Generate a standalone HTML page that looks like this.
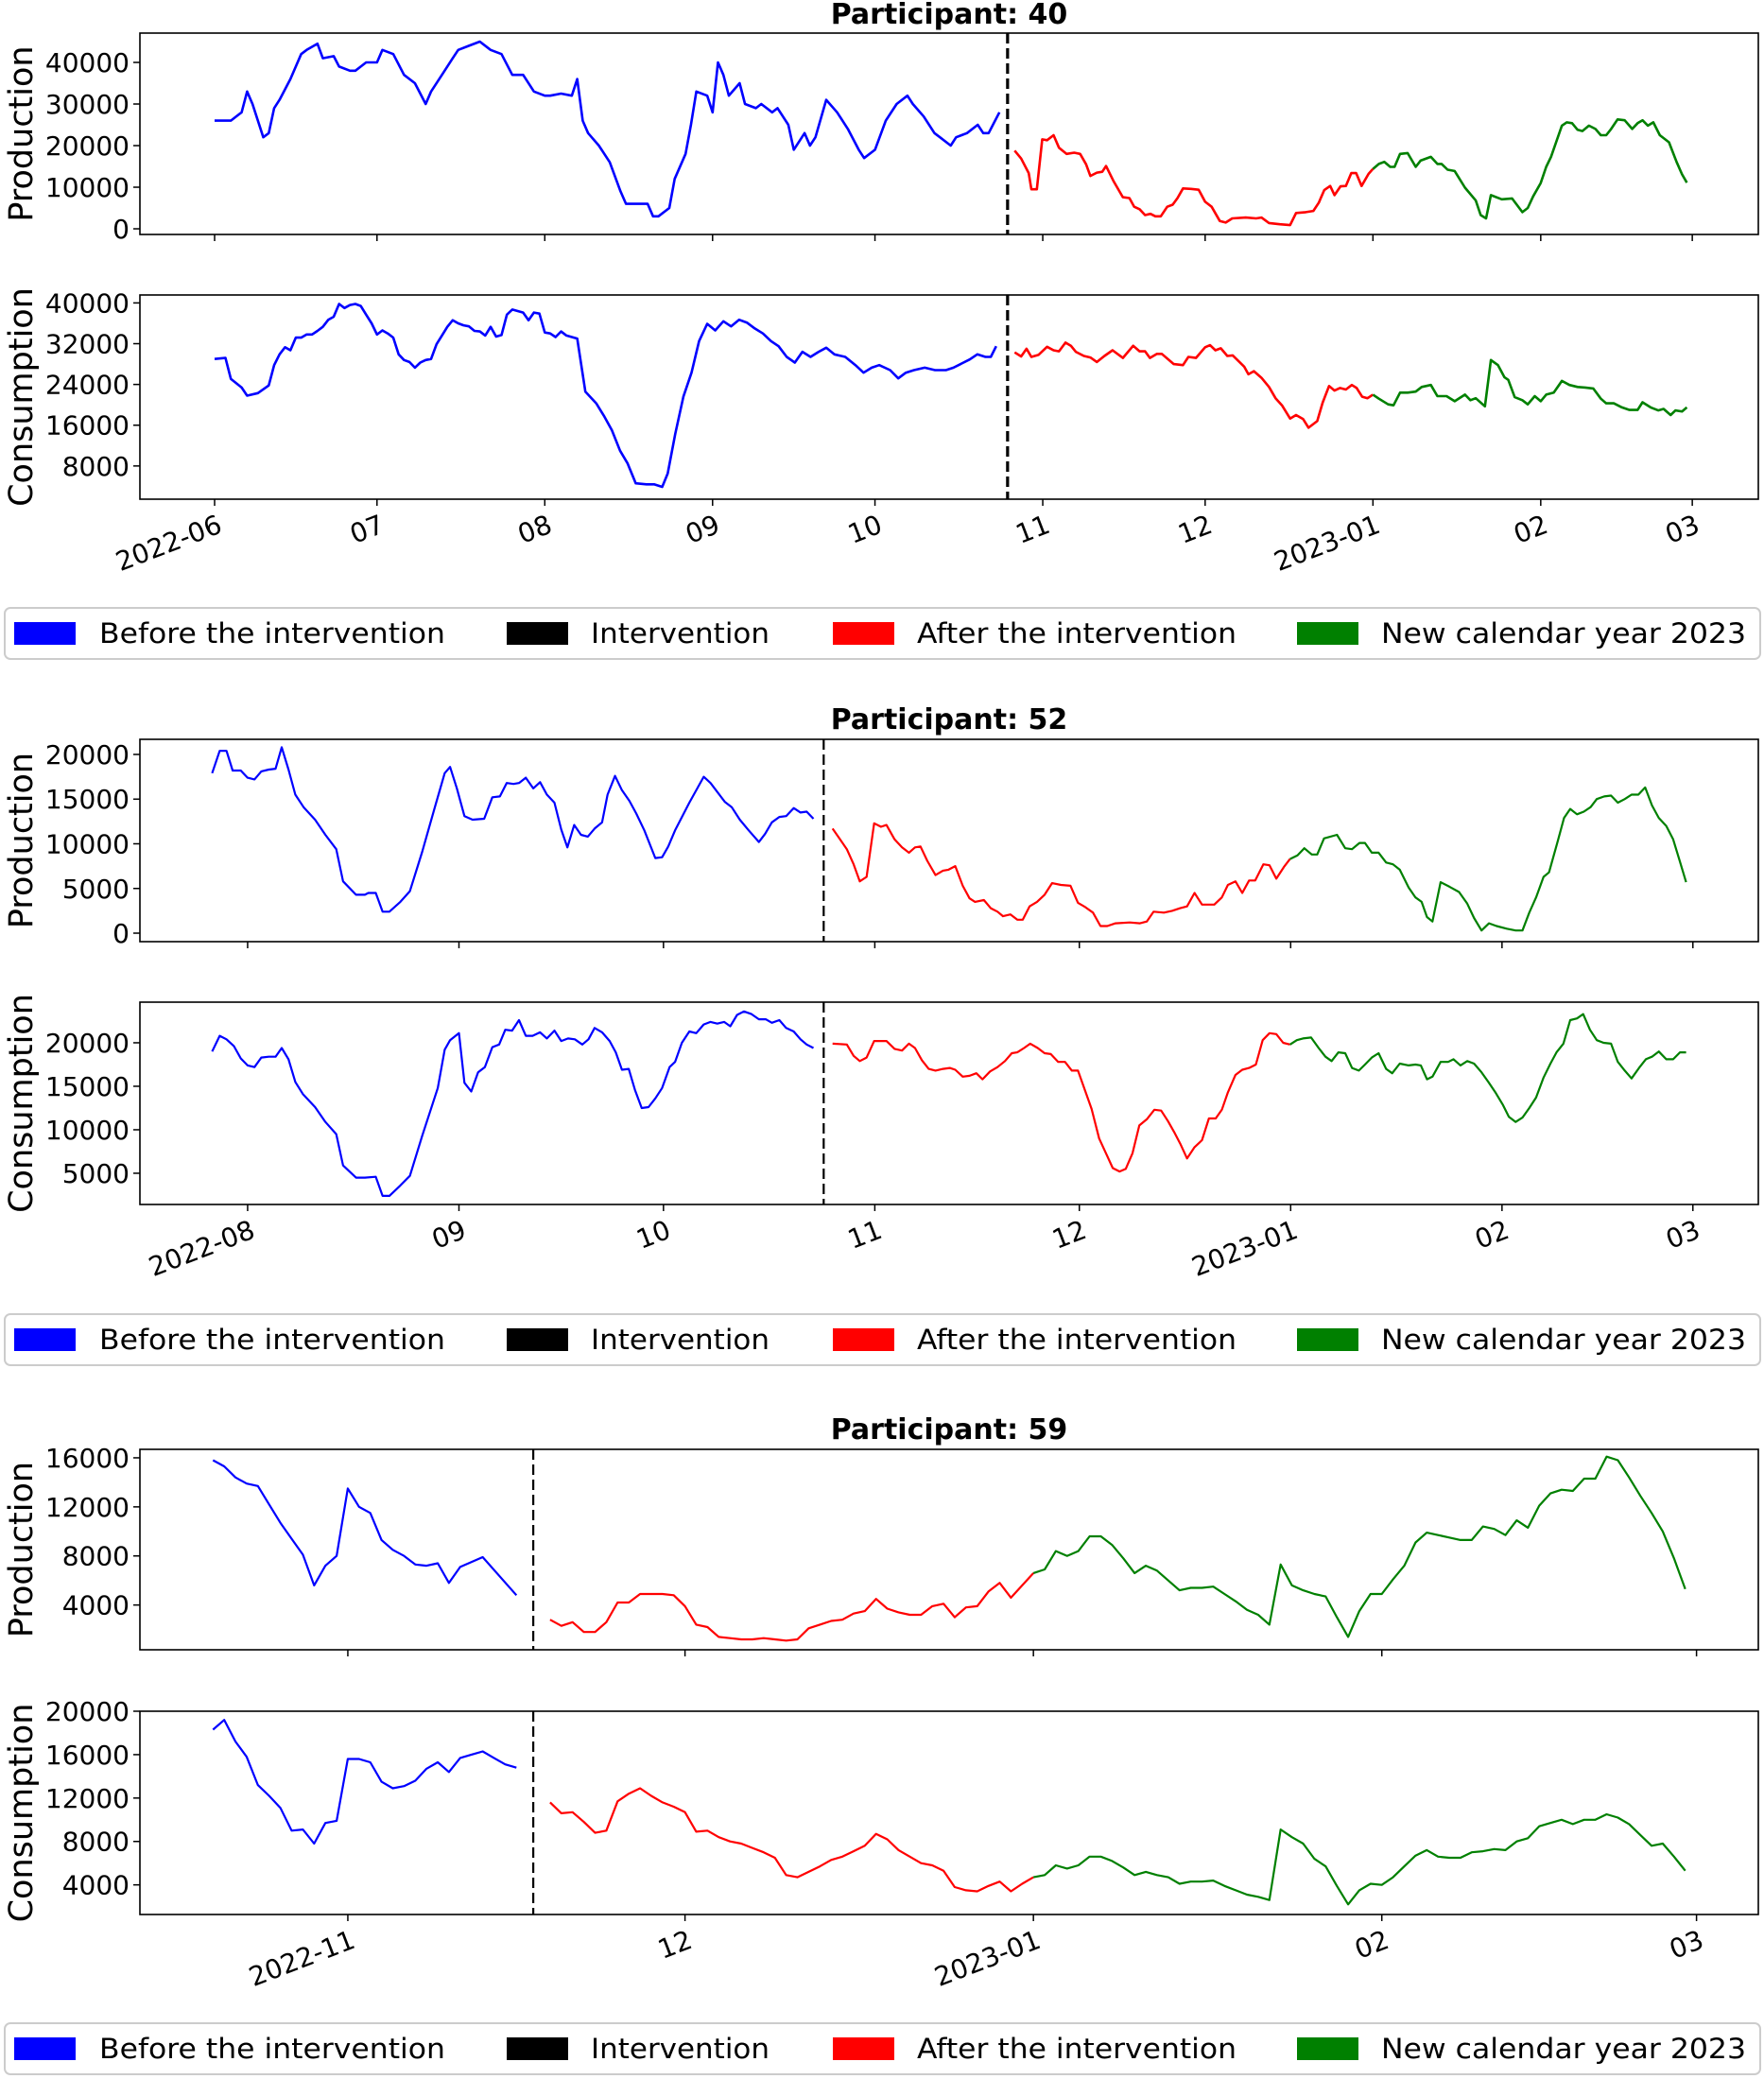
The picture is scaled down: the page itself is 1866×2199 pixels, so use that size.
<!DOCTYPE html>
<html><head><meta charset="utf-8"><title>Participants energy</title>
<style>html,body{margin:0;padding:0;background:#fff}svg{display:block;font-family:"DejaVu Sans","Liberation Sans",sans-serif}</style>
</head><body>
<svg id="chart" xmlns="http://www.w3.org/2000/svg" width="1866" height="2199" viewBox="0 0 1866 2199"></svg>
<script>
// ===== Data (values in thousands; days relative to first tick month) =====
const p40ProdBlueDays=[0,2,3,5,6,7,9,10,11,12,14,16,17,19,20,22,23,25,26,28,30,31,33,35,37,39,40,42,44,45,47,49,51,53,55,57,59,61,62,64,66,67,68,69,71,73,75,76,78,80,81,82,84,85,87,88,89,91,92,93,94,95,97,98,100,101,103,104,106,107,109,110,111,113,115,117,119,120,122,124,126,128,129,131,133,134,136,137,139,141,142,143,145];
const p40ProdBlueVals=[26,26,26,28,33,30,22,23,29,31,36,42,43,44.5,41,41.5,39,38,38,40,40,43,42,37,35,30,33,37,41,43,44,45,43,42,37,37,33,32,32,32.5,32,36,26,23,20,16,9,6,6,6,3,3,5,12,18,25,33,32,28,40,37,32,35,30,29,30,28,29,25,19,23,20,22,31,28,24,19,17,19,26,30,32,30,27,23,22,20,22,23,25,23,23,28];
const p40ProdRedDays=[147.8,149,150.4,150.9,151.9,152.9,153.8,155,156,157.4,158.8,159.9,161,161.8,163,164,164.7,166.1,167.8,169,169.9,170.9,171.9,172.9,173.8,174.8,176,177,177.9,178.9,180.4,181.8,183,184.2,185.7,186.8,188,190.5,192.4,193.4,194.8,196.8,198.7,199.8,201.6,203,204,205,206.1,206.9,208,209,210,210.9,211.9,213.2,214];
const p40ProdRedVals=[18.8,16.9,13.4,9.5,9.5,21.5,21.3,22.5,19.5,18,18.3,18,15.5,12.7,13.5,13.7,15.1,11.4,7.6,7.4,5.3,4.7,3.3,3.6,3.0,3.0,5.3,5.8,7.4,9.7,9.6,9.4,6.5,5.3,1.9,1.5,2.5,2.7,2.5,2.7,1.4,1.1,0.9,3.8,4.0,4.3,6.3,9.3,10.3,8.1,10.2,10.3,13.4,13.4,10.3,13.2,14.4];
const p40ProdGreenDays=[215.1,216.1,217.2,218,219,220.4,221.9,222.8,224.7,225.9,226.7,227.8,229.1,231,233,233.9,234.9,235.8,237.8,239.7,241.6,242.6,243.6,245,246,246.9,248.9,249.8,250.8,251.8,252.7,253.9,255.1,256.1,257.1,258,259.2,260.5,261.9,262.9,263.8,264.8,265.8,267,268.7,270.1,271.1,272];
const p40ProdGreenVals=[15.6,16.1,14.9,14.9,18,18.2,14.9,16.4,17.3,15.6,15.6,14.2,13.9,9.9,6.8,3.3,2.5,8.1,7.1,7.3,4.0,5.0,7.8,11.0,14.9,17.3,24.8,25.6,25.4,23.8,23.5,24.8,24,22.5,22.5,24,26.3,26.1,24,25.4,26.1,24.8,25.6,22.5,20.8,16.1,13.1,11.1];
const p40ConsBlueDays=[0,2,3,5,6,8,10,11,12,13,14,15,16,17,18,19,20,21,22,23,24,25,26,27,28,29,30,31,32,33,34,35,36,37,38,39,40,41,42,43,44,45,46,47,48,49,50,51,52,53,54,55,57,58,59,60,61,62,63,64,65,67,68.5,70.5,72,73.4,74.9,76.3,77.8,79.8,81.2,82.7,83.7,85.1,86.6,88.1,89.5,91,92.5,94,95.4,96.9,98.4,99.8,101.3,102.8,104.2,105.7,107.2,108.6,110.1,111.6,113,114.5,116.5,118.4,119.9,121.4,122.8,124.8,126.3,127.7,129.2,131.2,133.1,135.1,136.5,138,139.5,140.9,142.4,143.4,144.4];
const p40ConsBlueVals=[29.0,29.2,25.1,23.4,21.8,22.3,23.8,27.8,29.9,31.3,30.7,33.2,33.2,33.8,33.8,34.5,35.3,36.7,37.3,39.8,39.0,39.6,39.8,39.4,37.7,36,33.8,34.6,34,33.2,29.9,28.8,28.4,27.3,28.3,28.8,29.0,31.9,33.6,35.3,36.6,36,35.6,35.4,34.5,34.4,33.6,35.3,33.4,33.7,37.7,38.7,38.1,36.6,38.1,37.9,34.2,34,33.3,34.4,33.6,33,22.6,20.3,17.7,15,11,8.5,4.6,4.4,4.4,3.9,6.5,14.3,21.6,26.3,32.5,35.9,34.6,36.4,35.4,36.7,36.1,35,34,32.5,31.5,29.4,28.3,30.4,29.4,30.4,31.2,29.9,29.4,27.8,26.3,27.3,27.8,26.8,25.2,26.3,26.8,27.3,26.8,26.8,27.3,28.1,28.9,29.9,29.4,29.4,31.5];
const p40ConsRedDays=[147.8,149,150,150.9,152.2,153.8,155,156,157.2,158.2,159.1,160.6,161.8,163,164.4,165.9,167.8,169.7,170.9,171.9,172.8,174.1,175,177.2,178.9,179.9,181.3,183,183.9,184.9,185.9,187.1,188.1,190.2,191,192,193.4,194.8,196,197.2,198.7,199.8,201.1,202.1,203.7,204.7,205.9,206.9,207.9,209,210.1,211,212,213,214];
const p40ConsRedVals=[30.3,29.5,31.0,29.4,29.8,31.4,30.7,30.5,32.2,31.6,30.4,29.6,29.3,28.4,29.6,30.7,29.2,31.6,30.5,30.5,29.2,30,30,28.0,27.8,29.4,29.2,31.3,31.7,30.7,31.1,29.6,29.7,27.5,26,26.6,25.3,23.5,21.3,19.9,17.3,18,17.2,15.5,16.8,20.4,23.7,22.8,23.3,23,23.9,23.3,21.6,21.3,22.0];
const p40ConsGreenDays=[215.1,216.8,217.8,219,220.4,221.9,223,224.7,225.9,227.6,229.1,231,232,233,234.7,235.8,237.1,238.3,239,240.2,241.6,242.6,243.9,245,246,247.4,248.9,250.3,251.8,253.2,254.7,256.1,257.1,258.5,260,261.4,262.9,263.8,265.3,266.7,267.7,269,269.9,271.1,272];
const p40ConsGreenVals=[21.2,20.1,19.9,22.4,22.4,22.6,23.5,23.9,21.7,21.7,20.7,22.0,20.9,21.3,19.7,28.8,27.8,25.4,24.9,21.5,20.9,20.1,21.7,20.7,22,22.4,24.7,23.9,23.5,23.4,23.2,21.2,20.3,20.3,19.5,19.0,19.0,20.5,19.5,18.9,19.2,18,18.9,18.7,19.5];

const p52ProdBlueDays=[-5.2,-4.1,-3.1,-2.2,-1,0,1,2,3.1,4.1,5,6,7,8.2,9.9,11.4,13,14,15.9,17.2,17.7,18.8,19.8,20.8,22.4,23.8,25.6,27.4,28.9,29.7,30.7,31.8,33,34.7,35.9,37,38,39,39.8,40.8,41.9,42.9,43.9,45,46,46.9,47.9,48.9,49.9,50.9,52,52.8,53.9,54.9,56,57,58.2,59.8,60.8,61.7,62.7,64.8,66.9,67.9,68.9,70,71,72.2,73.5,75,75.9,76.9,78,79,80.1,81.1,82,83];
const p52ProdBlueVals=[17.9,20.4,20.4,18.2,18.2,17.4,17.2,18.1,18.3,18.4,20.8,18.3,15.5,14.1,12.7,11.0,9.4,5.8,4.3,4.3,4.5,4.5,2.4,2.4,3.5,4.7,9.1,13.9,17.9,18.6,16.2,13.1,12.7,12.8,15.2,15.3,16.8,16.7,16.8,17.4,16.2,16.9,15.5,14.6,11.6,9.6,12.1,11.0,10.8,11.7,12.4,15.5,17.6,16.0,14.8,13.4,11.5,8.4,8.5,9.7,11.5,14.6,17.5,16.8,15.8,14.7,14.1,12.7,11.5,10.2,11.1,12.4,13.0,13.1,14.0,13.5,13.6,12.8];
const p52ProdRedDays=[85.8,86.9,87.9,88.9,89.8,90.8,91.9,92.9,93.7,94.9,96,97,97.9,98.7,99.7,100.9,102,102.8,103.8,104.9,105.9,106.7,108,109,110,110.8,111.9,112.9,113.7,114.7,115.8,116.9,118,119.3,120.7,121.8,122.9,124,125.1,126.1,127.3,129.4,130.9,131.9,132.9,134.4,135.6,136.8,137.8,138.9,140,141.8,142.9,143.8,144.9,145.9,146.9,147.8,149,149.9,150.9,152,152.9];
const p52ProdRedVals=[11.7,10.5,9.4,7.7,5.8,6.3,12.3,11.9,12.1,10.5,9.6,9.0,9.6,9.7,8.1,6.5,7.0,7.1,7.5,5.3,3.9,3.5,3.7,2.8,2.4,1.9,2.1,1.5,1.5,3.0,3.5,4.3,5.6,5.4,5.3,3.4,2.9,2.3,0.8,0.8,1.1,1.2,1.1,1.3,2.4,2.3,2.5,2.8,3.0,4.5,3.2,3.2,4.0,5.4,5.8,4.5,5.9,5.9,7.7,7.6,6.1,7.4,8.3];
const p52ProdGreenDays=[154,155,156.1,156.9,157.9,159.8,161,162,163.1,163.9,164.9,165.9,167,168,169,170.3,171.3,172.2,173,173.8,175,176.3,177.7,178.9,179.9,181,182.1,183.2,184.7,186,187,188,189,190.1,190.9,192.1,193.1,194,195,196,197,197.9,199,200,201,202,203,204,205,206,207,208.1,209.1,210.1,211];
const p52ProdGreenVals=[8.7,9.5,8.8,8.8,10.6,11.0,9.5,9.4,10.1,10.1,9.0,9.0,7.9,7.7,7.1,5.1,4.0,3.5,1.8,1.3,5.7,5.2,4.6,3.3,1.7,0.3,1.1,0.8,0.5,0.3,0.3,2.3,4.0,6.3,6.8,10.1,12.9,13.9,13.3,13.6,14.1,15.0,15.3,15.4,14.6,15.0,15.5,15.5,16.3,14.3,12.9,12.0,10.5,8.0,5.7];
const p52ConsBlueDays=[-5.2,-4.1,-3.1,-2,-1,0,1,2,3.1,4.1,5,6,7,8.1,9.9,11.4,13,14,15.9,17.2,18.8,19.8,20.8,22.4,23.8,25.6,27.9,28.9,29.7,31,31.8,32.8,33.8,34.8,35.9,36.9,37.8,38.8,39.8,40.8,41.8,42.9,43.9,45,46,47,48,49.1,50,50.9,52,53.1,54,54.9,55.9,56.8,57.8,58.8,59.8,60.8,61.9,62.7,63.7,64.8,65.8,66.9,67.9,68.9,69.9,70.8,71.8,72.8,73.9,75,76,76.9,78,79,80.1,81.1,82,83];
const p52ConsBlueVals=[19.0,20.8,20.4,19.6,18.2,17.4,17.2,18.3,18.4,18.4,19.4,18.1,15.5,14.1,12.6,10.9,9.5,5.9,4.5,4.5,4.6,2.4,2.4,3.6,4.7,9.3,14.8,19.2,20.3,21.1,15.4,14.4,16.6,17.2,19.5,19.8,21.5,21.4,22.6,20.8,20.8,21.2,20.5,21.4,20.2,20.5,20.4,19.8,20.4,21.7,21.2,20.2,18.9,16.9,17.0,14.6,12.5,12.6,13.6,14.8,17.2,17.8,20.0,21.3,21.1,22.1,22.4,22.2,22.4,21.9,23.2,23.6,23.3,22.7,22.7,22.3,22.6,21.7,21.3,20.4,19.8,19.4];
const p52ConsRedDays=[85.8,87.9,88.9,89.8,90.8,91.9,93.7,94.9,96,97,97.9,98.9,99.9,100.9,102,103,103.8,104.9,105.9,106.9,107.8,108.9,110,111.1,112.1,112.9,113.9,114.8,115.9,116.9,117.8,118.9,119.9,120.9,121.8,122.8,123.8,124.9,125.9,126.9,127.9,128.8,129.8,130.8,131.9,133,134,135,136,136.8,137.8,138.9,140,141,142,142.9,143.8,144.9,145.9,146.9,147.9,148.9,149.9,150.9,151.9,152.9];
const p52ConsRedVals=[19.9,19.8,18.5,17.9,18.3,20.2,20.2,19.3,19.1,19.9,19.4,18.0,17.0,16.8,17.0,17.1,16.9,16.1,16.2,16.5,15.8,16.7,17.2,17.9,18.8,18.9,19.4,19.9,19.4,18.8,18.7,17.8,17.8,16.8,16.8,14.6,12.4,9.0,7.3,5.6,5.2,5.5,7.3,10.5,11.2,12.3,12.2,11.0,9.6,8.4,6.7,8.0,8.8,11.3,11.3,12.3,14.3,16.3,16.9,17.1,17.5,20.3,21.1,21.0,20.0,19.8];
const p52ConsGreenDays=[153.9,154.8,156,157.1,158.1,159,160,161,162,163,163.9,164.9,165.9,167,167.9,169,170.3,171.3,172.1,173,173.8,175,176.1,176.9,177.9,178.9,179.9,181,182,183.1,184.1,185,186,187,188,189,190.1,191.1,192,193,194,195,195.9,196.9,197.9,198.9,200,201,202,203,204.1,205.1,206,207,208.1,209.1,210.1,211];
const p52ConsGreenVals=[20.3,20.5,20.6,19.4,18.4,17.9,18.9,18.8,17.1,16.8,17.5,18.3,18.8,17.0,16.5,17.6,17.4,17.5,17.4,15.8,16.1,17.8,17.8,18.1,17.4,17.9,17.6,16.6,15.5,14.2,12.9,11.5,10.9,11.4,12.5,13.7,16.0,17.6,18.9,19.9,22.6,22.8,23.3,21.5,20.3,20.0,19.9,17.8,16.8,15.9,17.1,18.1,18.4,19.0,18.1,18.1,18.9,18.9];

const p59ProdBlueDays=[-12,-11,-10,-9,-8,-7,-6,-5,-4,-3,-2,-1,0,1,2,3,4,5,6,7,8,9,10,12,15];
const p59ProdBlueVals=[15.8,15.3,14.4,13.9,13.7,12.2,10.7,9.4,8.1,5.6,7.2,8.0,13.5,12.0,11.5,9.3,8.5,8.0,7.3,7.2,7.4,5.8,7.1,7.9,4.8];
const p59ProdRedDays=[18,19,20,21,22,23,24,25,26,27,28,29,30,31,32,33,34,35,36,37,38,39,40,41,42,43,44,45,46,47,48,49,50,51,52,53,54,55,56,57,58,59,60,61];
const p59ProdRedVals=[2.8,2.3,2.6,1.8,1.8,2.6,4.2,4.2,4.9,4.9,4.9,4.8,3.9,2.4,2.2,1.4,1.3,1.2,1.2,1.3,1.2,1.1,1.2,2.1,2.4,2.7,2.8,3.3,3.5,4.5,3.7,3.4,3.2,3.2,3.9,4.1,3.0,3.8,3.9,5.1,5.8,4.6,5.6,6.6];
const p59ProdGreenDays=[62,63,64,65,66,67,68,69,70,71,72,73,74,75,76,77,78,79,80,81,82,83,84,85,86,87,88,89,90,91,92,93,94,95,96,97,98,99,100,101,102,103,104,105,106,107,108,109,110,111,112,113,114,115,116,117,118,119];
const p59ProdGreenVals=[6.9,8.4,8.0,8.4,9.6,9.6,8.9,7.8,6.6,7.2,6.8,6.0,5.2,5.4,5.4,5.5,4.9,4.3,3.6,3.2,2.4,7.3,5.6,5.2,4.9,4.7,3.0,1.4,3.5,4.9,4.9,6.1,7.2,9.1,9.9,9.7,9.5,9.3,9.3,10.4,10.2,9.7,10.9,10.3,12.1,13.1,13.4,13.3,14.3,14.3,16.1,15.8,14.4,12.9,11.5,10.0,7.8,5.3];
const p59ConsBlueDays=[-12,-11,-10,-9,-8,-7,-6,-5,-4,-3,-2,-1,0,1,2,3,4,5,6,7,8,9,10,11,12,13,14,15];
const p59ConsBlueVals=[18.3,19.2,17.2,15.8,13.2,12.2,11.1,9.0,9.1,7.8,9.7,9.9,15.6,15.6,15.3,13.5,12.9,13.1,13.6,14.7,15.3,14.4,15.7,16.0,16.3,15.7,15.1,14.8];
const p59ConsRedDays=[18,19,20,21,22,23,24,25,26,27,28,29,30,31,32,33,34,35,36,37,38,39,40,41,42,43,44,45,46,47,48,49,50,51,52,53,54,55,56,57,58,59,60,61];
const p59ConsRedVals=[11.6,10.6,10.7,9.8,8.8,9.0,11.7,12.4,12.9,12.2,11.6,11.2,10.7,8.9,9.0,8.4,8.0,7.8,7.4,7.0,6.5,4.9,4.7,5.2,5.7,6.3,6.6,7.1,7.6,8.7,8.2,7.2,6.6,6.0,5.8,5.3,3.8,3.5,3.4,3.9,4.3,3.4,4.1,4.7];
const p59ConsGreenDays=[62,63,64,65,66,67,68,69,70,71,72,73,74,75,76,77,78,79,80,81,82,83,84,85,86,87,88,89,90,91,92,93,94,95,96,97,98,99,100,101,102,103,104,105,106,107,108,109,110,111,112,113,114,115,116,117,118,119];
const p59ConsGreenVals=[4.9,5.8,5.5,5.8,6.6,6.6,6.2,5.6,4.9,5.2,4.9,4.7,4.1,4.3,4.3,4.4,3.9,3.5,3.1,2.9,2.6,9.1,8.4,7.8,6.4,5.7,3.9,2.2,3.5,4.1,4.0,4.7,5.7,6.7,7.2,6.6,6.5,6.5,7.0,7.1,7.3,7.2,8.0,8.3,9.4,9.7,10.0,9.6,10.0,10.0,10.5,10.2,9.6,8.6,7.6,7.8,6.6,5.3];

const p40TickDays=[0,30,61,92,122,153,183,214,245,273];
const p40TickLabels=["2022-06","07","08","09","10","11","12","2023-01","02","03"];
const p52TickDays=[0,31,61,92,122,153,184,212];
const p52TickLabels=["2022-08","09","10","11","12","2023-01","02","03"];
const p59TickDays=[0,30,61,92,120];
const p59TickLabels=["2022-11","12","2023-01","02","03"];
const p40ProdTicks=[0,10000,20000,30000,40000];
const p40ConsTicks=[8000,16000,24000,32000,40000];
const p52ProdTicks=[0,5000,10000,15000,20000];
const p52ConsTicks=[5000,10000,15000,20000];
const p59ProdTicks=[4000,8000,12000,16000];
const p59ConsTicks=[4000,8000,12000,16000,20000];
const interventionDays=[146.5,84.5,16.5];
const legendLabels=["Before the intervention","Intervention","After the intervention","New calendar year 2023"];
const UNIT=1000;

// ===== Rendering =====
const NS='http://www.w3.org/2000/svg';
const svg=document.getElementById('chart');
function mk(tag,attrs,parent){const e=document.createElementNS(NS,tag);for(const k in attrs)e.setAttribute(k,attrs[k]);(parent||svg).appendChild(e);return e;}

const panels=[
 {id:'p40',title:'Participant: 40',titleY:25,dmin:-13.8,dmax:285.2,lw:2.6,dw:3.2,legendTop:643,
  tickDays:p40TickDays,tickLabels:p40TickLabels,iv:interventionDays[0],
  prod:{top:35,bottom:248,ymin:-1360,ymax:47050,ticks:p40ProdTicks,segs:[[p40ProdBlueDays,p40ProdBlueVals],[p40ProdRedDays,p40ProdRedVals],[p40ProdGreenDays,p40ProdGreenVals]]},
  cons:{top:312,bottom:528,ymin:1480,ymax:41560,ticks:p40ConsTicks,segs:[[p40ConsBlueDays,p40ConsBlueVals],[p40ConsRedDays,p40ConsRedVals],[p40ConsGreenDays,p40ConsGreenVals]]}},
 {id:'p52',title:'Participant: 52',titleY:771,dmin:-15.8,dmax:221.6,lw:2.2,dw:2.2,legendTop:1390,
  tickDays:p52TickDays,tickLabels:p52TickLabels,iv:interventionDays[1],
  prod:{top:782,bottom:996,ymin:-950,ymax:21690,ticks:p52ProdTicks,segs:[[p52ProdBlueDays,p52ProdBlueVals],[p52ProdRedDays,p52ProdRedVals],[p52ProdGreenDays,p52ProdGreenVals]]},
  cons:{top:1060,bottom:1274,ymin:1410,ymax:24670,ticks:p52ConsTicks,segs:[[p52ConsBlueDays,p52ConsBlueVals],[p52ConsRedDays,p52ConsRedVals],[p52ConsGreenDays,p52ConsGreenVals]]}},
 {id:'p59',title:'Participant: 59',titleY:1522,dmin:-18.5,dmax:125.5,lw:2.2,dw:2.2,legendTop:2140,
  tickDays:p59TickDays,tickLabels:p59TickLabels,iv:interventionDays[2],
  prod:{top:1533,bottom:1745,ymin:350,ymax:16690,ticks:p59ProdTicks,segs:[[p59ProdBlueDays,p59ProdBlueVals],[p59ProdRedDays,p59ProdRedVals],[p59ProdGreenDays,p59ProdGreenVals]]},
  cons:{top:1810,bottom:2025,ymin:1270,ymax:20000,ticks:p59ConsTicks,segs:[[p59ConsBlueDays,p59ConsBlueVals],[p59ConsRedDays,p59ConsRedVals],[p59ConsGreenDays,p59ConsGreenVals]]}}
];
const LEFT=148,RIGHT=1860;
const COLORS=['#0000ff','#ff0000','#008000'];
const SEGNAMES=['before','after','new-year'];

panels.forEach(p=>{
  const g=mk('g',{});
  
  
  const xs=d=>LEFT+(d-p.dmin)/(p.dmax-p.dmin)*(RIGHT-LEFT);
  const t=mk('text',{x:(LEFT+RIGHT)/2,y:p.titleY,'text-anchor':'middle','font-size':30,'font-weight':'bold',fill:'#000'},g);
  t.textContent=p.title;
  
  
  [['prod','Production'],['cons','Consumption']].forEach(([key,label],ai)=>{
    const a=p[key];
    const ys=v=>a.bottom-(v-a.ymin)/(a.ymax-a.ymin)*(a.bottom-a.top);
    const ag=mk('g',{},g);
    
    
    let prev=null;
    a.segs.forEach((s,si)=>{
      const pts=[];
      if(si===2&&prev)pts.push(prev);
      s[0].forEach((d,i)=>pts.push([xs(d),ys(s[1][i]*UNIT)]));
      const pl=mk('polyline',{points:pts.map(q=>q[0].toFixed(1)+','+q[1].toFixed(1)).join(' '),fill:'none',stroke:COLORS[si],'stroke-width':p.lw,'stroke-linejoin':'round'},ag);
      
      
      prev=pts[pts.length-1];
    });
    const ix=xs(p.iv);
    const il=mk('line',{x1:ix,x2:ix,y1:a.top,y2:a.bottom,stroke:'#000','stroke-width':p.dw,'stroke-dasharray':'11,5'},ag);
    
    
    const fr=mk('rect',{x:LEFT,y:a.top,width:RIGHT-LEFT,height:a.bottom-a.top,fill:'none',stroke:'#000','stroke-width':1.6},ag);
    
    
    a.ticks.forEach(v=>{
      const y=ys(v);
      const tk=mk('line',{x1:LEFT-7,x2:LEFT,y1:y,y2:y,stroke:'#000','stroke-width':1.5},ag);
      
      
      const tl=mk('text',{x:LEFT-11,y:y+10,'text-anchor':'end','font-size':28,fill:'#000'},ag);
      tl.textContent=String(v);
      
      
    });
    p.tickDays.forEach((d,i)=>{
      const x=xs(d);
      const tk=mk('line',{x1:x,x2:x,y1:a.bottom,y2:a.bottom+7,stroke:'#000','stroke-width':1.5},ag);
      
      
      if(key==='cons'){
        const tl=mk('text',{x:x+2,y:a.bottom+15,'text-anchor':'end','dominant-baseline':'hanging','font-size':28,fill:'#000',transform:'rotate(-21 '+(x+2)+' '+(a.bottom+15)+')'},ag);
        tl.textContent=p.tickLabels[i];
        
        
      }
    });
    const cy=(a.top+a.bottom)/2;
    const yl=mk('text',{x:34,y:cy,'text-anchor':'middle','font-size':35,fill:'#000',transform:'rotate(-90 34 '+cy+')'},ag);
    yl.textContent=label;
    
    
  });
  const lg=mk('g',{},g);
  
  
  const lt=p.legendTop;
  const lb=mk('rect',{x:5,y:lt,width:1857,height:54,rx:6,fill:'#fff',stroke:'#cccccc','stroke-width':2},lg);
  
  
  const patchX=[15,536,881,1372], textX=[105,625,970,1461], textW=[366,189,338,386];
  const pc=['#0000ff','#000000','#ff0000','#008000'];
  legendLabels.forEach((L,i)=>{
    const r=mk('rect',{x:patchX[i],y:lt+15,width:65,height:24,fill:pc[i]},lg);
    
    
    const tx=mk('text',{x:textX[i],y:lt+37,'font-size':29,fill:'#000',textLength:textW[i],lengthAdjust:'spacingAndGlyphs'},lg);
    tx.textContent=L;
    
    
  });
});
</script>
</body></html>
